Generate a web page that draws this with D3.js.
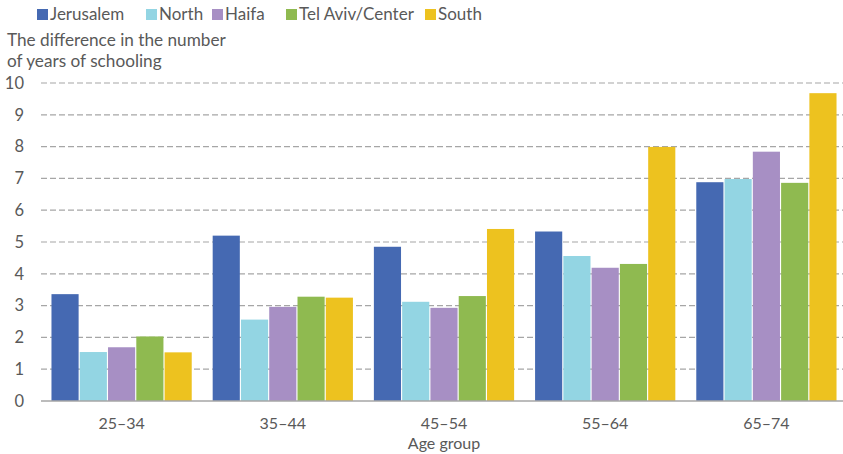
<!DOCTYPE html>
<html>
<head>
<meta charset="utf-8">
<script src="https://cdn.jsdelivr.net/npm/d3@7"></script>
<style>
  html, body { margin: 0; padding: 0; background: #fff; }
  svg { display: block; font-family: Lato, "Open Sans", sans-serif; }
</style>
</head>
<body>
<svg id="chart" width="843" height="454"></svg>
<script>
// Age groups along the x axis
const ageGroups = ["25–34", "35–44", "45–54", "55–64", "65–74"];

// Districts (series) and their colours
const districts = ["Jerusalem", "North", "Haifa", "Tel Aviv/Center", "South"];
const colors = ["#4569b2", "#93d5e3", "#a78fc4", "#8fba50", "#edc21f"];

// Difference in years of schooling, per district, one value per age group
const jerusalem = [3.36, 5.20, 4.85, 5.33, 6.88];
const north     = [1.54, 2.56, 3.12, 4.56, 6.98];
const haifa     = [1.69, 2.96, 2.93, 4.19, 7.84];
const telAviv   = [2.03, 3.28, 3.30, 4.31, 6.86];
const south     = [1.53, 3.25, 5.41, 7.99, 9.68];

const seriesValues = [jerusalem, north, haifa, telAviv, south];

// Y axis ticks
const yTicks = [0, 1, 2, 3, 4, 5, 6, 7, 8, 9, 10];

// Legend item positions (left edge of swatch)
const legendX = [37, 146, 212, 286, 425];

const svg = d3.select("#chart");
const textColor = "#595959";
const gridColor = "#a6a6a6";

const plot = { left: 41, right: 847, top: 83, bottom: 401 };

const x0 = d3.scaleBand()
  .domain(ageGroups)
  .range([plot.left, plot.right])
  .paddingInner(0.13)
  .paddingOuter(0.065);

const x1 = d3.scaleBand()
  .domain(districts)
  .range([0, x0.bandwidth()])
  .paddingInner(0.04);

const y = d3.scaleLinear()
  .domain([0, 10])
  .range([plot.bottom, plot.top]);

// Dashed gridlines
svg.append("g")
  .selectAll("line")
  .data(yTicks.filter(d => d > 0))
  .join("line")
  .attr("x1", plot.left)
  .attr("x2", 843)
  .attr("y1", d => y(d))
  .attr("y2", d => y(d))
  .attr("stroke", gridColor)
  .attr("stroke-width", 1.2)
  .attr("stroke-dasharray", "6,3");

// Y tick labels
svg.append("g")
  .selectAll("text")
  .data(yTicks)
  .join("text")
  .attr("x", 24)
  .attr("y", d => y(d))
  .attr("dy", "0.35em")
  .attr("text-anchor", "end")
  .attr("fill", textColor)
  .attr("font-size", 16.5)
  .text(d => d);

// Bars
const rows = [];
districts.forEach((dist, i) => {
  ageGroups.forEach((g, j) => {
    rows.push({ district: dist, group: g, value: seriesValues[i][j], color: colors[i] });
  });
});

svg.append("g")
  .selectAll("rect")
  .data(rows)
  .join("rect")
  .attr("x", d => x0(d.group) + x1(d.district))
  .attr("width", x1.bandwidth())
  .attr("y", d => y(d.value))
  .attr("height", d => y(0) - y(d.value))
  .attr("fill", d => d.color);

// Baseline
svg.append("line")
  .attr("x1", plot.left)
  .attr("x2", 843)
  .attr("y1", y(0))
  .attr("y2", y(0))
  .attr("stroke", gridColor)
  .attr("stroke-width", 1.5);

// X tick labels
svg.append("g")
  .selectAll("text")
  .data(ageGroups)
  .join("text")
  .attr("x", d => x0(d) + x0.bandwidth() / 2)
  .attr("y", 429)
  .attr("text-anchor", "middle")
  .attr("fill", textColor)
  .attr("font-size", 16)
  .text(d => d);

// X axis title
svg.append("text")
  .attr("x", (x0(ageGroups[2]) + x0.bandwidth() / 2))
  .attr("y", 449)
  .attr("text-anchor", "middle")
  .attr("fill", textColor)
  .attr("font-size", 16)
  .text("Age group");

// Y axis title (two lines)
const yTitle = svg.append("text")
  .attr("x", 7)
  .attr("fill", textColor)
  .attr("font-size", 17.2);
yTitle.append("tspan").attr("x", 7).attr("y", 46).text("The difference in the number");
yTitle.append("tspan").attr("x", 7).attr("y", 67).text("of years of schooling");

// Legend
const legend = svg.append("g")
  .selectAll("g")
  .data(districts)
  .join("g")
  .attr("transform", (d, i) => `translate(${legendX[i]},0)`);

legend.append("rect")
  .attr("x", 0)
  .attr("y", 9)
  .attr("width", 11)
  .attr("height", 11)
  .attr("fill", (d, i) => colors[i]);

legend.append("text")
  .attr("x", 13)
  .attr("y", 20)
  .attr("fill", textColor)
  .attr("font-size", 17)
  .text(d => d);
</script>
</body>
</html>
